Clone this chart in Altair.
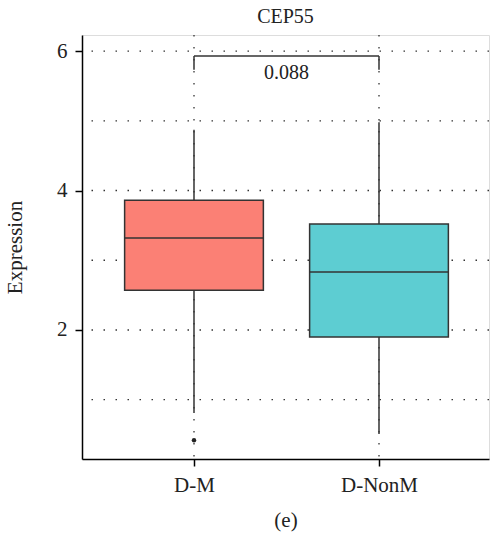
import altair as alt
import pandas as pd

# ---- data ----
gene = "CEP55"
categories = ["D-M", "D-NonM"]
lower_whisker = [0.81, 0.51]
q1 = [2.57, 1.90]
median = [3.32, 2.83]
q3 = [3.86, 3.52]
upper_whisker = [4.87, 4.98]
outlier_group = ["D-M"]
outlier_value = [0.42]
box_colors = ["#FB8075", "#5DCDD2"]
p_value_label = "0.088"
bracket_top = 5.93
bracket_tick_bottom = 5.73
p_label_y = 5.60
y_label_values = [2, 4, 6]
y_grid_values = [1, 2, 3, 4, 5, 6]

FONT = "Liberation Serif"
INK = "#222222"
FS = 21

pos = list(range(1, len(categories) + 1))
box_df = pd.DataFrame({
    "group": categories,
    "pos": pos,
    "lo": lower_whisker,
    "q1": q1,
    "med": median,
    "q3": q3,
    "hi": upper_whisker,
})
out_df = pd.DataFrame({
    "group": outlier_group,
    "pos": [pos[categories.index(g)] for g in outlier_group],
    "value": outlier_value,
})
ygrid_df = pd.DataFrame({"v": y_grid_values})
xgrid_df = pd.DataFrame({"pos": pos})
bracket_df = pd.DataFrame({"x1": [pos[0]], "x2": [pos[1]], "top": [bracket_top],
                           "bottom": [bracket_tick_bottom]})
legs_df = pd.DataFrame({"pos": pos[:2], "top": [bracket_top] * 2,
                        "bottom": [bracket_tick_bottom] * 2})
label_df = pd.DataFrame({"x": [(pos[0] + pos[1]) / 2], "y": [p_label_y],
                         "t": [p_value_label]})

label_expr = "[" + ",".join("'" + c + "'" for c in categories) + "][datum.value - 1]"

xscale = alt.Scale(domain=[0.3946, 2.5946], nice=False, zero=False)
yscale = alt.Scale(domain=[0.15, 6.23], nice=False, zero=False)

x_axis = alt.Axis(values=pos, labelExpr=label_expr, title="(e)", grid=False,
                  tickSize=7, labelPadding=8, labelFontSize=FS, labelFont=FONT,
                  labelColor=INK, titleFont=FONT, titleFontSize=FS,
                  titleFontWeight="normal", titleColor=INK, titlePadding=14,
                  domainColor="#000", tickColor="#000", domainWidth=1.5, tickWidth=1.5)
y_axis = alt.Axis(values=y_label_values, format="d", title="Expression", grid=False,
                  tickSize=7, labelPadding=8, labelFontSize=FS, labelFont=FONT,
                  labelColor=INK, titleFont=FONT, titleFontSize=FS,
                  titleFontWeight="normal", titleColor=INK, titlePadding=31,
                  domainColor="#000", tickColor="#000", domainWidth=1.5, tickWidth=1.5)

dash = [1.5, 10.5]
hgrid = alt.Chart(ygrid_df).mark_rule(strokeDash=dash, color="#000", opacity=0.8,
                                       strokeWidth=1.3).encode(
    y=alt.Y("v:Q", scale=yscale, axis=y_axis))
vgrid = alt.Chart(xgrid_df).mark_rule(strokeDash=dash, color="#000", opacity=0.8,
                                       strokeWidth=1.3).encode(
    x=alt.X("pos:Q", scale=xscale, axis=x_axis))

base = alt.Chart(box_df)
whisk = base.mark_rule(color="#333", strokeWidth=1.5).encode(
    x=alt.X("pos:Q", scale=xscale, axis=x_axis),
    y=alt.Y("lo:Q", scale=yscale, axis=y_axis),
    y2="hi:Q")
box = base.transform_calculate(
    left="datum.pos - 0.375", right="datum.pos + 0.375"
).mark_rect(stroke="#333", strokeWidth=1.5).encode(
    x=alt.X("left:Q", scale=xscale, axis=x_axis),
    x2="right:Q",
    y=alt.Y("q1:Q", scale=yscale, axis=y_axis),
    y2="q3:Q",
    color=alt.Color("group:N", scale=alt.Scale(domain=categories, range=box_colors),
                    legend=None))
med = base.transform_calculate(
    left="datum.pos - 0.375", right="datum.pos + 0.375"
).mark_rule(color="#333", strokeWidth=1.5).encode(
    x=alt.X("left:Q", scale=xscale, axis=x_axis),
    x2="right:Q",
    y=alt.Y("med:Q", scale=yscale, axis=y_axis))
outl = alt.Chart(out_df).mark_circle(size=20, color="#222", opacity=1).encode(
    x=alt.X("pos:Q", scale=xscale, axis=x_axis),
    y=alt.Y("value:Q", scale=yscale, axis=y_axis))

br_h = alt.Chart(bracket_df).mark_rule(color="#333", strokeWidth=1.5).encode(
    x=alt.X("x1:Q", scale=xscale, axis=x_axis), x2="x2:Q",
    y=alt.Y("top:Q", scale=yscale, axis=y_axis))
br_v = alt.Chart(legs_df).mark_rule(color="#333", strokeWidth=1.5).encode(
    x=alt.X("pos:Q", scale=xscale, axis=x_axis),
    y=alt.Y("bottom:Q", scale=yscale, axis=y_axis), y2="top:Q")
ptext = alt.Chart(label_df).mark_text(font=FONT, fontSize=FS - 1, color=INK,
                                      baseline="alphabetic", align="center").encode(
    x=alt.X("x:Q", scale=xscale, axis=x_axis),
    y=alt.Y("y:Q", scale=yscale, axis=y_axis),
    text="t:N")

chart = alt.layer(hgrid, vgrid, whisk, box, med, outl, br_h, br_v, ptext).properties(
    width=407, height=424,
    title=alt.TitleParams(gene, font=FONT, fontSize=FS - 1, fontWeight="normal",
                          color=INK, offset=7, anchor="middle"),
    autosize=alt.AutoSizeParams(type="none"),
    padding={"left": 82, "top": 35, "right": 1, "bottom": 76},
).configure_view(stroke="#222", strokeWidth=1.2).configure(background="white")

chart.save("out.html", embed_options={"renderer": "svg", "actions": False})
